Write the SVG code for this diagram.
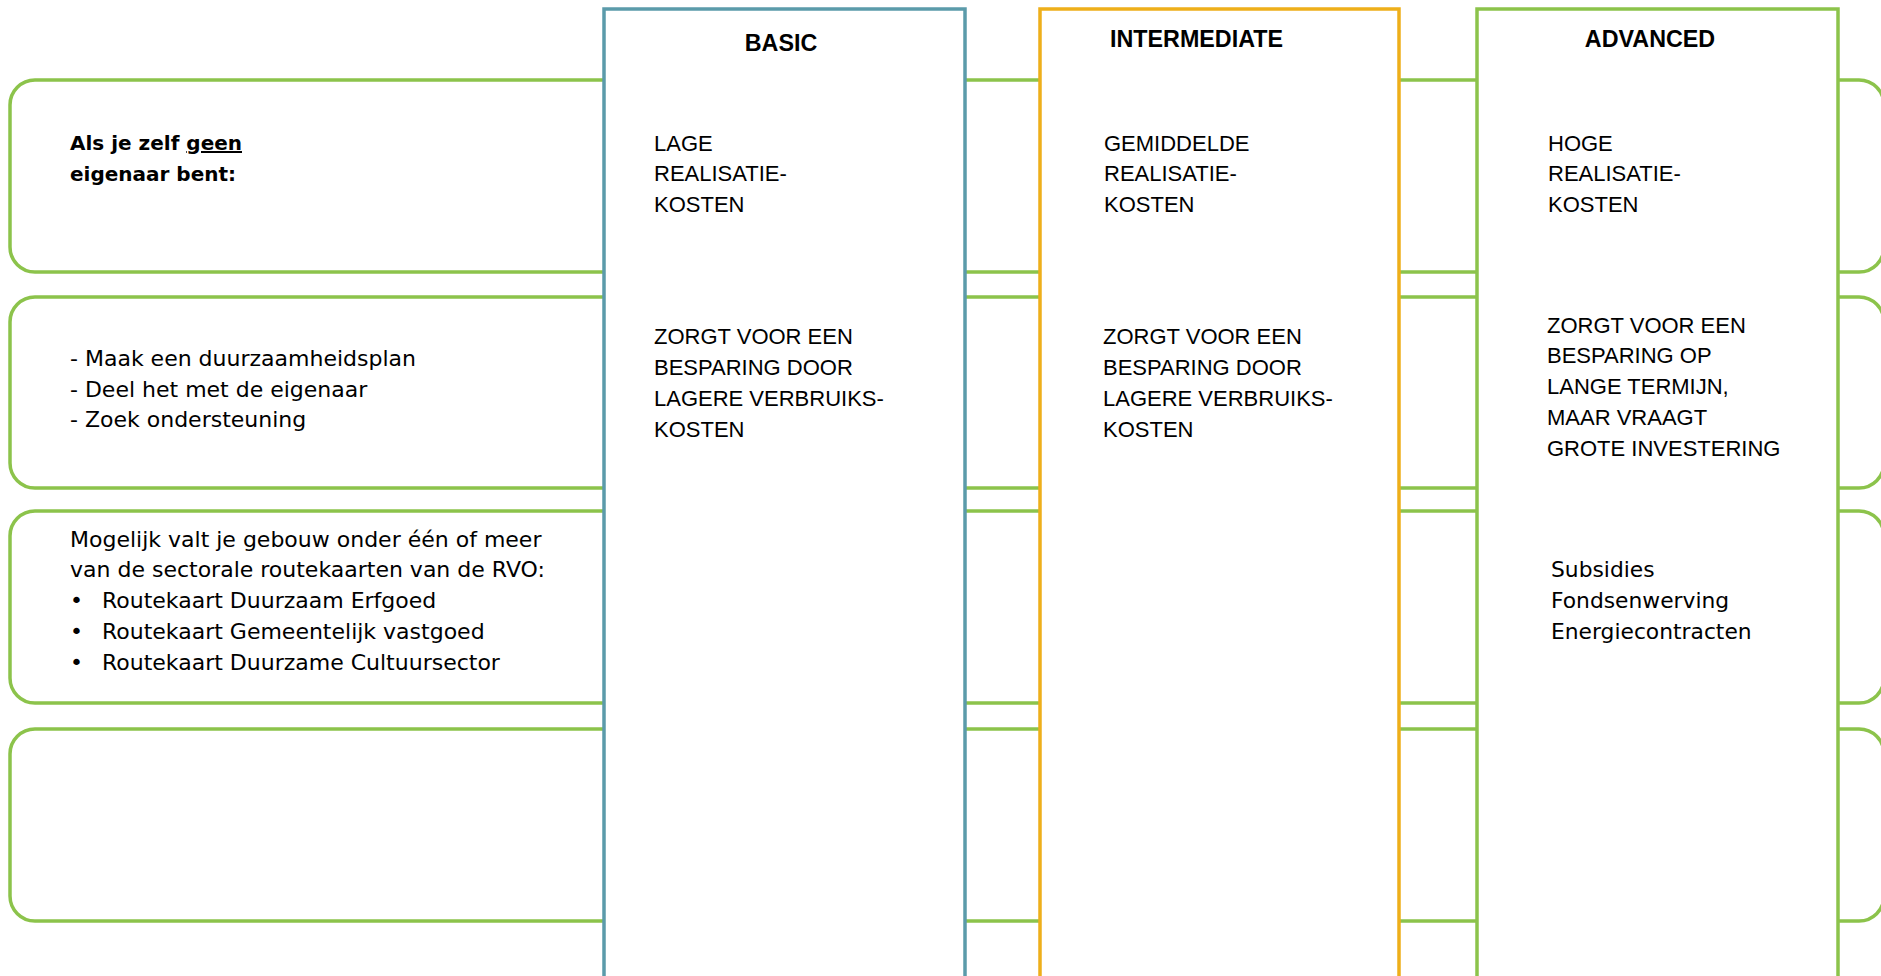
<svg xmlns="http://www.w3.org/2000/svg" width="1881" height="976" viewBox="0 0 1881 976">
  <style>
    .row { fill: #ffffff; stroke: #8CC34B; stroke-width: 3.5; }
    .col { fill: #ffffff; stroke-width: 3.5; }
    .basic { stroke: #5B9BAA; }
    .inter { stroke: #EEAF1A; }
    .adv { stroke: #8CC34B; }
    .hdr { font-family: "Liberation Sans", Arial, sans-serif; font-weight: bold; font-size: 23.3px; fill: #000; }
    .ct { font-family: "Liberation Sans", Arial, sans-serif; font-size: 22px; fill: #000; }
    .lt { font-family: "DejaVu Sans", "Liberation Sans", sans-serif; font-size: 22px; fill: #000; }
    .lb { font-family: "DejaVu Sans", "Liberation Sans", sans-serif; font-size: 20px; font-weight: bold; fill: #000; }
    .fin { font-family: "DejaVu Sans", "Liberation Sans", sans-serif; font-size: 21.8px; fill: #000; }
  </style>
  <rect width="1881" height="976" fill="#ffffff"/>

  <g id="connectors">
    <rect id="row1" class="row" x="10" y="80" width="1874" height="192" rx="25" ry="25"/>
    <rect id="row2" class="row" x="10" y="297" width="1874" height="191" rx="25" ry="25"/>
    <rect id="row3" class="row" x="10" y="511" width="1874" height="192" rx="25" ry="25"/>
    <rect id="row4" class="row" x="10" y="729" width="1874" height="192" rx="25" ry="25"/>
  </g>

  <g id="row-texts">
    <g id="row1-text">
      <text class="lb" x="70" y="150">Als je zelf <tspan text-decoration="underline">geen</tspan></text>
      <text class="lb" x="70" y="181">eigenaar bent:</text>
    </g>
    <g id="row2-text">
      <text class="lt" x="70" y="366">- Maak een duurzaamheidsplan</text>
      <text class="lt" x="70" y="397">- Deel het met de eigenaar</text>
      <text class="lt" x="70" y="427">- Zoek ondersteuning</text>
    </g>
    <g id="row3-text">
      <text class="lt" x="70" y="547">Mogelijk valt je gebouw onder één of meer</text>
      <text class="lt" x="70" y="577">van de sectorale routekaarten van de RVO:</text>
      <text class="lt" x="70" y="608">•</text>
      <text class="lt" x="102" y="608">Routekaart Duurzaam Erfgoed</text>
      <text class="lt" x="70" y="639">•</text>
      <text class="lt" x="102" y="639">Routekaart Gemeentelijk vastgoed</text>
      <text class="lt" x="70" y="670">•</text>
      <text class="lt" x="102" y="670">Routekaart Duurzame Cultuursector</text>
    </g>
  </g>

  <g id="basic">
    <rect class="col basic" x="604" y="9" width="361" height="1000"/>
    <text class="hdr" x="781" y="51" text-anchor="middle">BASIC</text>
    <text class="ct" x="654" y="151">LAGE</text>
    <text class="ct" x="654" y="181">REALISATIE-</text>
    <text class="ct" x="654" y="212">KOSTEN</text>
    <text class="ct" x="654" y="344">ZORGT VOOR EEN</text>
    <text class="ct" x="654" y="375">BESPARING DOOR</text>
    <text class="ct" x="654" y="406">LAGERE VERBRUIKS-</text>
    <text class="ct" x="654" y="437">KOSTEN</text>
  </g>

  <g id="intermediate">
    <rect class="col inter" x="1040" y="9" width="359" height="1000"/>
    <text class="hdr" x="1110" y="47">INTERMEDIATE</text>
    <text class="ct" x="1104" y="151">GEMIDDELDE</text>
    <text class="ct" x="1104" y="181">REALISATIE-</text>
    <text class="ct" x="1104" y="212">KOSTEN</text>
    <text class="ct" x="1103" y="344">ZORGT VOOR EEN</text>
    <text class="ct" x="1103" y="375">BESPARING DOOR</text>
    <text class="ct" x="1103" y="406">LAGERE VERBRUIKS-</text>
    <text class="ct" x="1103" y="437">KOSTEN</text>
  </g>

  <g id="advanced">
    <rect class="col adv" x="1477" y="9" width="361" height="1000"/>
    <text class="hdr" x="1650" y="47" text-anchor="middle">ADVANCED</text>
    <text class="ct" x="1548" y="151">HOGE</text>
    <text class="ct" x="1548" y="181">REALISATIE-</text>
    <text class="ct" x="1548" y="212">KOSTEN</text>
    <text class="ct" x="1547" y="333">ZORGT VOOR EEN</text>
    <text class="ct" x="1547" y="363">BESPARING OP</text>
    <text class="ct" x="1547" y="394">LANGE TERMIJN,</text>
    <text class="ct" x="1547" y="425">MAAR VRAAGT</text>
    <text class="ct" x="1547" y="456">GROTE INVESTERING</text>
    <text class="fin" x="1551" y="577">Subsidies</text>
    <text class="fin" x="1551" y="608">Fondsenwerving</text>
    <text class="fin" x="1551" y="639">Energiecontracten</text>
  </g>
</svg>
